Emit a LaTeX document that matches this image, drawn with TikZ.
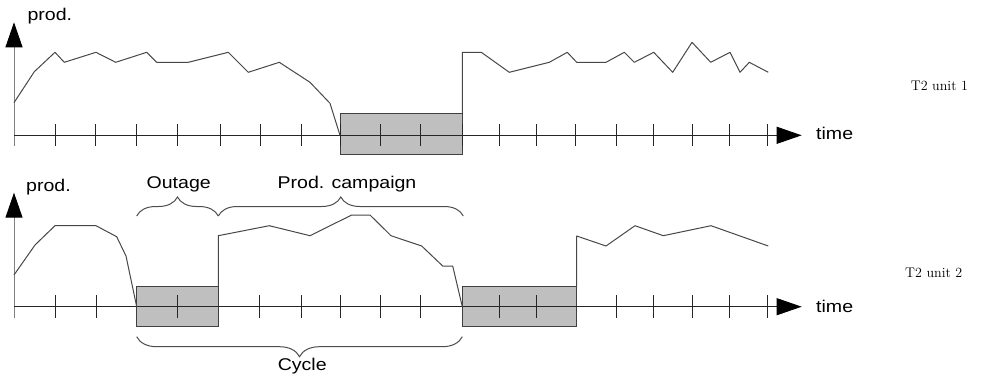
\documentclass[tikz,border=0pt]{standalone}
\usepackage{fontspec}
\newfontfamily\lab[FakeStretch=1.15]{Liberation Sans}
\usetikzlibrary{arrows.meta,decorations.pathreplacing}
\begin{document}
\begin{tikzpicture}[x=1pt,y=-1pt,
  yaxis/.style={line width=1pt,draw=black!50,-{Triangle[length=25pt,width=17pt,color=black]}},
  xaxis/.style={line width=1pt,draw=black!85,-{Triangle[length=25pt,width=17pt,color=black]}},
  tickmark/.style={line width=1pt,draw=black!85},
  outbox/.style={line width=1pt,draw=black!75,fill=black!25},
  curve/.style={line width=1pt,draw=black!72,line join=round},
  lbl/.style={inner sep=0pt,font=\lab\fontsize{17}{20}\selectfont},
  unitlbl/.style={inner sep=0pt,font=\fontsize{14}{17}\selectfont},
  bracestyle/.style={line width=1pt,draw=black!70,decorate}
]
\useasboundingbox (0,0) rectangle (1006,381);
% ---------- top panel ----------
\draw[outbox] (340,113.3) rectangle (462.3,154.3);
\draw[yaxis] (14,146) -- (14,22.3);
\draw[xaxis] (14,135.3) -- (801.7,135.3);
\foreach \t in {55.7,95.7,136.7,177.3,220,260,301,340,380.7,420.7,462.3,499.3,536.7,575.7,616,653.7,692,729.7,767}
  \draw[tickmark] (\t,124) -- (\t,146);
\draw[curve] plot coordinates {(14,102.7) (34.3,71.7) (55,52.3) (64.3,62.3) (96,52.3) (115.7,62.3) (146.7,52.3) (156.7,62.3) (188.3,62.3) (228.3,52.3) (248.3,72.3) (279.3,62.3) (310,82.3) (330,103.3) (340,135.3)};
\draw[curve] plot coordinates {(462.3,113.3) (462.3,52.3) (481.3,52.3) (509.3,72.3) (549.3,62.3) (567.3,52.3) (576.7,62.3) (606,62.3) (624.3,52.3) (634.3,62.3) (653.7,52.3) (672.7,72.3) (692,42.3) (710.7,62.3) (730,52.3) (740,72.3) (749.3,62.3) (768.3,72.3)};
\node[lbl,anchor=base west] (prod1) at (27.3,20.7) {prod.};
\node[lbl,anchor=base west] (time1) at (816,139.3) {time};
\node[unitlbl,anchor=base west] (unit1) at (910.7,90) {T2 unit 1};
% ---------- bottom panel ----------
\draw[outbox] (136.7,286.7) rectangle (218.3,326.7);
\draw[outbox] (462.3,286.7) rectangle (576.7,326.7);
\draw[yaxis] (14,318.3) -- (14,192.7);
\draw[xaxis] (14,306.7) -- (801.7,306.7);
\foreach \t in {55.7,96,177.7,259,301,340.7,380.7,420.7,499.3,536.7,616,653.7,692,729.7,767}
  \draw[tickmark] (\t,295) -- (\t,318.3);
\draw[curve] plot coordinates {(14,275) (35,245) (55,225.7) (96,225.7) (116.7,236.7) (126,256) (136.7,306.7)};
\draw[curve] plot coordinates {(218.3,286.7) (218.3,235.7) (269.3,225.7) (310,235.7) (351.7,215) (370,215) (391,235.7) (421.7,246) (442.7,266) (452.7,266) (462.3,306.7)};
\draw[curve] plot coordinates {(576.7,286.7) (576.7,236) (606,246) (635,225.7) (663.3,235.7) (711,225.7) (768.3,246)};
\coordinate (oa) at (136.7,216);
\coordinate (ob) at (218.3,216);
\coordinate (pb) at (463.3,216);
\coordinate (ca) at (136.7,336.7);
\coordinate (cb) at (462.3,336.7);
\draw[bracestyle,decoration={brace,amplitude=19pt}] (oa) -- (ob);
\draw[bracestyle,decoration={brace,amplitude=19pt}] (ob) -- (pb);
\draw[bracestyle,decoration={brace,amplitude=20pt}] (cb) -- (ca);
\node[lbl,anchor=base] (outage) at (178.7,188.5) {Outage};
\node[lbl,anchor=base] (campaign) at (347,188.5) {Prod. campaign};
\node[lbl,anchor=base] (cycle) at (302.2,370.5) {Cycle};
\node[lbl,anchor=base west] (prod2) at (26,191.7) {prod.};
\node[lbl,anchor=base west] (time2) at (816,312.7) {time};
\node[unitlbl,anchor=base west] (unit2) at (905,277.3) {T2 unit 2};
\end{tikzpicture}
\end{document}
